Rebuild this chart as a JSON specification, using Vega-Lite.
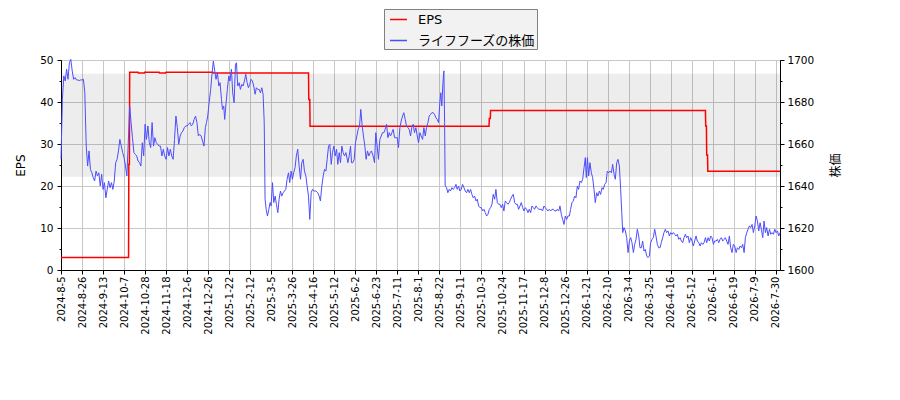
{
  "$schema": "https://vega.github.io/schema/vega-lite/v6.json",
  "width": 719,
  "height": 210,
  "autosize": {"type": "none"},
  "padding": {"left": 61, "top": 60, "right": 120, "bottom": 130},
  "config": {
    "font": "DejaVu Sans",
    "view": {"stroke": "black", "strokeWidth": 1},
    "axis": {
      "domainColor": "black",
      "tickColor": "black",
      "labelColor": "black",
      "labelFont": "DejaVu Sans",
      "labelFontSize": 10.5,
      "gridColor": "#c8c8c8",
      "gridWidth": 1,
      "titleFont": "DejaVu Sans, Noto Sans CJK JP",
      "titleFontSize": 12,
      "titleFontWeight": "normal",
      "titleColor": "black"
    },
    "legend": {
      "orient": "none",
      "legendX": 323,
      "legendY": -51,
      "fillColor": "#f2f2f2",
      "strokeColor": "#808080",
      "padding": 1,
      "symbolOffset": 4,
      "symbolType": "stroke",
      "symbolStrokeWidth": 1.5,
      "symbolSize": 289,
      "rowPadding": 4,
      "labelOffset": 10,
      "labelFont": "DejaVu Sans, Noto Sans CJK JP",
      "labelFontSize": 13,
      "labelColor": "black",
      "labelLimit": 300
    }
  },
  "layer": [
    {
      "layer": [
        {
          "data": {"values": [{"n0": 0, "n1": 513, "lo": 22.2, "hi": 46.7}]},
          "mark": {"type": "rect", "color": "black", "opacity": 0.07},
          "encoding": {
            "x": {"field": "n0", "type": "quantitative", "scale": {"domain": [0, 513], "nice": false, "zero": false}},
            "x2": {"field": "n1"},
            "y": {"field": "lo", "type": "quantitative", "scale": {"domain": [0, 50], "nice": false}},
            "y2": {"field": "hi"}
          }
        },
        {
          "data": {"values": [
            {"n": 0, "eps": 3.0}, {"n": 48.2, "eps": 3.0}, {"n": 48.4, "eps": 25.2}, {"n": 48.8, "eps": 25.2}, {"n": 49.0, "eps": 47.1},
            {"n": 55.0, "eps": 47.1}, {"n": 55.2, "eps": 46.9}, {"n": 59.5, "eps": 46.9}, {"n": 59.7, "eps": 47.1},
            {"n": 70.0, "eps": 47.1}, {"n": 70.2, "eps": 46.9}, {"n": 74.7, "eps": 46.9}, {"n": 74.9, "eps": 47.1},
            {"n": 108.3, "eps": 47.1}, {"n": 108.5, "eps": 46.9}, {"n": 176.6, "eps": 46.9}, {"n": 176.8, "eps": 40.6},
            {"n": 177.5, "eps": 40.6}, {"n": 177.7, "eps": 34.2}, {"n": 305.4, "eps": 34.2}, {"n": 305.6, "eps": 36.1},
            {"n": 306.3, "eps": 36.1}, {"n": 306.5, "eps": 38.0}, {"n": 459.8, "eps": 38.0}, {"n": 460.0, "eps": 34.3},
            {"n": 460.5, "eps": 34.3}, {"n": 460.7, "eps": 27.4}, {"n": 461.3, "eps": 27.4}, {"n": 461.5, "eps": 23.5},
            {"n": 513, "eps": 23.5}
          ]},
          "mark": {"type": "line", "strokeWidth": 1.5},
          "encoding": {
            "x": {
              "field": "n",
              "type": "quantitative",
              "scale": {"domain": [0, 513], "nice": false, "zero": false},
              "axis": {
                "title": null,
                "values": [0, 15, 30, 45, 60, 75, 90, 105, 120, 135, 150, 165, 180, 195, 210, 225, 240, 255, 270, 285, 300, 315, 330, 345, 360, 375, 390, 405, 420, 435, 450, 465, 480, 495, 510],
                "tickCount": 60,
                "labelExpr": "['2024-8-5','2024-8-26','2024-9-13','2024-10-7','2024-10-28','2024-11-18','2024-12-6','2024-12-26','2025-1-22','2025-2-12','2025-3-5','2025-3-26','2025-4-16','2025-5-12','2025-6-2','2025-6-23','2025-7-11','2025-8-1','2025-8-22','2025-9-11','2025-10-3','2025-10-24','2025-11-17','2025-12-8','2025-12-26','2026-1-21','2026-2-10','2026-3-4','2026-3-25','2026-4-16','2026-5-12','2026-6-1','2026-6-19','2026-7-9','2026-7-30'][round(datum.value / 15)]",
                "labelAngle": 270,
                "labelFontSize": 10,
                "labelFlush": false,
                "labelBound": false,
                "labelOverlap": false,
                "tickSize": 4,
                "labelPadding": 2,
                "grid": true
              }
            },
            "y": {
              "field": "eps",
              "type": "quantitative",
              "scale": {"domain": [0, 50], "nice": false},
              "axis": {
                "title": "EPS",
                "orient": "left",
                "values": [0, 5, 10, 15, 20, 25, 30, 35, 40, 45, 50],
                "tickCount": 30,
                "labelExpr": "datum.value % 10 == 0 ? datum.label : ''",
                "tickSize": {"condition": {"test": "datum.value % 10 != 0", "value": 2}, "value": 4},
                "gridOpacity": {"condition": {"test": "datum.value % 10 != 0", "value": 0}, "value": 1},
                "grid": true,
                "labelOverlap": false,
                "labelPadding": 4,
                "titlePadding": 12
              }
            },
            "color": {
              "datum": "EPS",
              "type": "nominal",
              "scale": {"domain": ["EPS", "ライフフーズの株価"], "range": ["#ff0000", "#4d4dff"]},
              "legend": {"title": null}
            }
          }
        }
      ]
    },
    {
      "data": {"values": [
        {"n": 0, "price": 1652.7}, {"n": 1, "price": 1681.3}, {"n": 2, "price": 1692.4}, {"n": 3, "price": 1690.0}, {"n": 4, "price": 1695.6},
        {"n": 5, "price": 1690.8}, {"n": 6, "price": 1698.7}, {"n": 7, "price": 1700.3}, {"n": 8, "price": 1694.8}, {"n": 9, "price": 1690.8},
        {"n": 10, "price": 1691.6}, {"n": 11, "price": 1690.5}, {"n": 12, "price": 1690.5}, {"n": 13, "price": 1690.2}, {"n": 14, "price": 1690.5},
        {"n": 15, "price": 1690.5}, {"n": 16, "price": 1690.8}, {"n": 17, "price": 1684.4}, {"n": 18, "price": 1659.0}, {"n": 19, "price": 1649.5},
        {"n": 20, "price": 1656.7}, {"n": 21, "price": 1647.9}, {"n": 22, "price": 1646.3}, {"n": 23, "price": 1644.0}, {"n": 24, "price": 1642.4},
        {"n": 25, "price": 1647.1}, {"n": 26, "price": 1644.8}, {"n": 27, "price": 1646.3}, {"n": 28, "price": 1640.0}, {"n": 29, "price": 1645.6},
        {"n": 30, "price": 1638.4}, {"n": 31, "price": 1641.6}, {"n": 32, "price": 1634.4}, {"n": 33, "price": 1638.4}, {"n": 34, "price": 1642.4},
        {"n": 35, "price": 1639.2}, {"n": 36, "price": 1641.6}, {"n": 37, "price": 1638.4}, {"n": 38, "price": 1642.4}, {"n": 39, "price": 1651.1},
        {"n": 40, "price": 1652.7}, {"n": 41, "price": 1656.7}, {"n": 42, "price": 1662.2}, {"n": 43, "price": 1659.0}, {"n": 44, "price": 1655.9},
        {"n": 45, "price": 1653.5}, {"n": 46, "price": 1649.5}, {"n": 47, "price": 1644.8}, {"n": 48, "price": 1660.6}, {"n": 49, "price": 1678.1},
        {"n": 50, "price": 1670.2}, {"n": 51, "price": 1663.0}, {"n": 52, "price": 1655.9}, {"n": 53, "price": 1655.1}, {"n": 54, "price": 1654.3},
        {"n": 55, "price": 1651.9}, {"n": 56, "price": 1651.1}, {"n": 57, "price": 1649.5}, {"n": 58, "price": 1660.6}, {"n": 59, "price": 1654.3},
        {"n": 60, "price": 1669.4}, {"n": 61, "price": 1662.2}, {"n": 62, "price": 1668.6}, {"n": 63, "price": 1660.6}, {"n": 64, "price": 1658.3},
        {"n": 65, "price": 1670.2}, {"n": 66, "price": 1659.0}, {"n": 67, "price": 1663.0}, {"n": 68, "price": 1660.6}, {"n": 69, "price": 1659.8},
        {"n": 70, "price": 1659.0}, {"n": 71, "price": 1659.0}, {"n": 72, "price": 1654.3}, {"n": 73, "price": 1657.5}, {"n": 74, "price": 1654.3},
        {"n": 75, "price": 1652.7}, {"n": 76, "price": 1658.3}, {"n": 77, "price": 1654.3}, {"n": 78, "price": 1657.5}, {"n": 79, "price": 1654.3},
        {"n": 80, "price": 1652.7}, {"n": 81, "price": 1662.2}, {"n": 82, "price": 1673.3}, {"n": 83, "price": 1667.8}, {"n": 84, "price": 1659.8},
        {"n": 85, "price": 1663.8}, {"n": 86, "price": 1665.4}, {"n": 87, "price": 1666.2}, {"n": 88, "price": 1667.8}, {"n": 89, "price": 1668.6},
        {"n": 90, "price": 1668.6}, {"n": 91, "price": 1669.4}, {"n": 92, "price": 1670.2}, {"n": 93, "price": 1668.6}, {"n": 94, "price": 1669.4},
        {"n": 95, "price": 1671.7}, {"n": 96, "price": 1673.3}, {"n": 97, "price": 1670.2}, {"n": 98, "price": 1663.8}, {"n": 99, "price": 1664.6},
        {"n": 100, "price": 1663.8}, {"n": 101, "price": 1661.4}, {"n": 102, "price": 1659.0}, {"n": 103, "price": 1667.8},
        {"n": 103.8, "price": 1670.2}, {"n": 104.7, "price": 1673.3}, {"n": 105.7, "price": 1679.7}, {"n": 106.8, "price": 1686.0}, {"n": 107.6, "price": 1692.4},
        {"n": 108.7, "price": 1699.5}, {"n": 109.7, "price": 1694.8}, {"n": 110.6, "price": 1690.8}, {"n": 111.6, "price": 1694.0}, {"n": 112.6, "price": 1687.6},
        {"n": 113.5, "price": 1689.2}, {"n": 114.5, "price": 1681.3}, {"n": 115.2, "price": 1676.5}, {"n": 116.1, "price": 1678.1}, {"n": 116.8, "price": 1671.7},
        {"n": 117.8, "price": 1679.7}, {"n": 118.7, "price": 1686.0}, {"n": 119.7, "price": 1692.4}, {"n": 120.6, "price": 1690.0}, {"n": 121.6, "price": 1695.6},
        {"n": 122.5, "price": 1684.4}, {"n": 123.5, "price": 1679.7}, {"n": 124.5, "price": 1697.9}, {"n": 125.2, "price": 1698.7}, {"n": 126.1, "price": 1687.6},
        {"n": 127.1, "price": 1689.2}, {"n": 128, "price": 1686.0}, {"n": 129, "price": 1688.4}, {"n": 129.9, "price": 1687.6}, {"n": 130.9, "price": 1690.0},
        {"n": 131.8, "price": 1693.2}, {"n": 132.8, "price": 1689.2}, {"n": 133.7, "price": 1686.8}, {"n": 134.7, "price": 1688.4}, {"n": 135.6, "price": 1690.8},
        {"n": 136.6, "price": 1690.0}, {"n": 137.5, "price": 1687.6}, {"n": 138.5, "price": 1683.7}, {"n": 139.4, "price": 1686.8}, {"n": 140.4, "price": 1686.0},
        {"n": 141.4, "price": 1686.0}, {"n": 142.3, "price": 1684.4}, {"n": 143.3, "price": 1686.8}, {"n": 144.2, "price": 1683.7}, {"n": 145, "price": 1670.2},
        {"n": 145.6, "price": 1633.7}, {"n": 146.4, "price": 1628.9}, {"n": 147.3, "price": 1625.7}, {"n": 148.3, "price": 1628.9}, {"n": 149.2, "price": 1632.1},
        {"n": 149.9, "price": 1630.5}, {"n": 150.9, "price": 1641.6}, {"n": 151.8, "price": 1632.1}, {"n": 152.8, "price": 1635.2}, {"n": 153.7, "price": 1631.3},
        {"n": 154.7, "price": 1627.3}, {"n": 155.6, "price": 1633.7}, {"n": 156.6, "price": 1637.6}, {"n": 157.5, "price": 1635.2}, {"n": 158.5, "price": 1636.8},
        {"n": 159.4, "price": 1637.6}, {"n": 160.4, "price": 1638.4}, {"n": 161.3, "price": 1643.2}, {"n": 162.3, "price": 1646.3}, {"n": 163.2, "price": 1641.6},
        {"n": 164.2, "price": 1647.1}, {"n": 165.1, "price": 1643.2}, {"n": 166, "price": 1646.3}, {"n": 167, "price": 1648.7}, {"n": 167.9, "price": 1654.3},
        {"n": 168.9, "price": 1657.5}, {"n": 169.9, "price": 1649.5}, {"n": 170.9, "price": 1643.2}, {"n": 171.8, "price": 1651.1}, {"n": 172.8, "price": 1652.7},
        {"n": 173.7, "price": 1647.1}, {"n": 174.7, "price": 1644.8}, {"n": 175.6, "price": 1640.0}, {"n": 176.6, "price": 1635.2}, {"n": 177.5, "price": 1624.1},
        {"n": 178.5, "price": 1636.8}, {"n": 179.4, "price": 1638.4}, {"n": 180.4, "price": 1637.6}, {"n": 181.8, "price": 1637.6}, {"n": 183.2, "price": 1636.8},
        {"n": 184.2, "price": 1635.2}, {"n": 185.1, "price": 1632.9}, {"n": 186.1, "price": 1640.0}, {"n": 187.1, "price": 1644.8}, {"n": 188, "price": 1647.9},
        {"n": 189, "price": 1647.1}, {"n": 189.9, "price": 1652.7}, {"n": 190.9, "price": 1659.0}, {"n": 191.8, "price": 1659.8}, {"n": 192.8, "price": 1650.3},
        {"n": 193.7, "price": 1655.9}, {"n": 194.7, "price": 1659.0}, {"n": 195.6, "price": 1654.3}, {"n": 196.6, "price": 1657.5}, {"n": 197.5, "price": 1650.3},
        {"n": 198.5, "price": 1655.9}, {"n": 199.4, "price": 1651.1}, {"n": 200.4, "price": 1659.0}, {"n": 201.3, "price": 1655.9}, {"n": 202.3, "price": 1654.3},
        {"n": 203.3, "price": 1655.9}, {"n": 204.7, "price": 1651.1}, {"n": 205.6, "price": 1654.3}, {"n": 206.6, "price": 1659.0}, {"n": 207.3, "price": 1651.1},
        {"n": 208.2, "price": 1651.1}, {"n": 209.2, "price": 1652.7}, {"n": 210.1, "price": 1660.6}, {"n": 211.1, "price": 1663.8}, {"n": 212, "price": 1667.0},
        {"n": 213, "price": 1668.6}, {"n": 213.9, "price": 1676.5}, {"n": 214.9, "price": 1668.6}, {"n": 215.8, "price": 1663.8}, {"n": 216.8, "price": 1659.0},
        {"n": 217.7, "price": 1652.7}, {"n": 218.7, "price": 1656.7}, {"n": 219.6, "price": 1654.3}, {"n": 220.6, "price": 1655.9}, {"n": 221.5, "price": 1656.7},
        {"n": 222.7, "price": 1654.3}, {"n": 223.7, "price": 1651.1}, {"n": 224.6, "price": 1665.4}, {"n": 225.6, "price": 1659.0}, {"n": 226.5, "price": 1652.7},
        {"n": 227.5, "price": 1662.2}, {"n": 228.5, "price": 1663.8}, {"n": 229.4, "price": 1665.4}, {"n": 230.4, "price": 1665.4}, {"n": 231.3, "price": 1667.0},
        {"n": 232.3, "price": 1669.4}, {"n": 233.2, "price": 1663.0}, {"n": 234.2, "price": 1665.4}, {"n": 235.1, "price": 1663.8}, {"n": 236.1, "price": 1665.4},
        {"n": 237, "price": 1667.0}, {"n": 238, "price": 1663.0}, {"n": 238.9, "price": 1663.0}, {"n": 239.9, "price": 1663.0}, {"n": 240.8, "price": 1658.3},
        {"n": 241.8, "price": 1667.8}, {"n": 242.7, "price": 1670.9}, {"n": 243.7, "price": 1673.3}, {"n": 244.6, "price": 1674.9}, {"n": 245.6, "price": 1671.7},
        {"n": 246.5, "price": 1668.6}, {"n": 247.5, "price": 1667.8}, {"n": 248.4, "price": 1667.0}, {"n": 249.4, "price": 1663.8}, {"n": 250.3, "price": 1667.8},
        {"n": 251.3, "price": 1669.4}, {"n": 252.2, "price": 1665.4}, {"n": 253.2, "price": 1667.8}, {"n": 254.2, "price": 1663.8}, {"n": 255.1, "price": 1660.6},
        {"n": 256.1, "price": 1665.4}, {"n": 257, "price": 1663.8}, {"n": 258, "price": 1662.2}, {"n": 258.9, "price": 1667.8}, {"n": 259.9, "price": 1663.8},
        {"n": 260.8, "price": 1667.8}, {"n": 261.8, "price": 1670.2}, {"n": 262.7, "price": 1673.3}, {"n": 263.7, "price": 1674.1}, {"n": 264.6, "price": 1674.9},
        {"n": 265.6, "price": 1674.9}, {"n": 266.5, "price": 1674.1}, {"n": 267.5, "price": 1672.5}, {"n": 268.4, "price": 1671.7}, {"n": 269.4, "price": 1670.2},
        {"n": 270.3, "price": 1679.7}, {"n": 271, "price": 1684.4}, {"n": 271.7, "price": 1678.1}, {"n": 272.5, "price": 1689.2}, {"n": 273.2, "price": 1694.8},
        {"n": 273.7, "price": 1670.2}, {"n": 274.1, "price": 1640.0}, {"n": 275.1, "price": 1639.2}, {"n": 276, "price": 1636.8}, {"n": 277, "price": 1638.4},
        {"n": 277.9, "price": 1637.6}, {"n": 278.9, "price": 1639.2}, {"n": 279.9, "price": 1638.4}, {"n": 280.8, "price": 1639.2}, {"n": 281.8, "price": 1640.8},
        {"n": 282.7, "price": 1638.4}, {"n": 283.7, "price": 1640.0}, {"n": 284.6, "price": 1637.6}, {"n": 285.6, "price": 1638.4}, {"n": 286.5, "price": 1640.8},
        {"n": 287.5, "price": 1639.2}, {"n": 288.4, "price": 1637.6}, {"n": 289.4, "price": 1636.8}, {"n": 290.3, "price": 1638.4}, {"n": 291.3, "price": 1636.8},
        {"n": 292.2, "price": 1638.4}, {"n": 293.2, "price": 1636.0}, {"n": 294.1, "price": 1634.4}, {"n": 295.1, "price": 1635.2}, {"n": 296.1, "price": 1632.9},
        {"n": 297, "price": 1633.7}, {"n": 298, "price": 1630.5}, {"n": 298.9, "price": 1629.7}, {"n": 299.9, "price": 1629.7}, {"n": 300.8, "price": 1628.1},
        {"n": 301.8, "price": 1628.9}, {"n": 302.7, "price": 1627.3}, {"n": 303.7, "price": 1625.7}, {"n": 304.6, "price": 1626.5}, {"n": 305.6, "price": 1628.9},
        {"n": 306.5, "price": 1629.7}, {"n": 307.5, "price": 1631.3}, {"n": 308.4, "price": 1636.0}, {"n": 309.4, "price": 1633.7}, {"n": 310.3, "price": 1638.4},
        {"n": 311.3, "price": 1632.1}, {"n": 312.2, "price": 1631.3}, {"n": 313.2, "price": 1631.3}, {"n": 314.1, "price": 1629.7}, {"n": 315.1, "price": 1631.3},
        {"n": 316, "price": 1628.1}, {"n": 317, "price": 1632.9}, {"n": 317.9, "price": 1632.1}, {"n": 318.9, "price": 1631.3}, {"n": 319.8, "price": 1632.1},
        {"n": 320.8, "price": 1633.7}, {"n": 321.8, "price": 1635.2}, {"n": 322.7, "price": 1636.0}, {"n": 323.7, "price": 1632.1}, {"n": 324.6, "price": 1631.3},
        {"n": 325.6, "price": 1631.3}, {"n": 326.5, "price": 1628.9}, {"n": 327.5, "price": 1630.5}, {"n": 328.4, "price": 1632.1}, {"n": 329.4, "price": 1629.7},
        {"n": 330.3, "price": 1628.1}, {"n": 331.3, "price": 1629.7}, {"n": 332.2, "price": 1628.9}, {"n": 333.2, "price": 1627.3}, {"n": 334.1, "price": 1628.9},
        {"n": 335.1, "price": 1627.3}, {"n": 336, "price": 1630.5}, {"n": 337, "price": 1629.7}, {"n": 337.9, "price": 1628.9}, {"n": 338.9, "price": 1630.5},
        {"n": 339.8, "price": 1629.7}, {"n": 340.8, "price": 1628.9}, {"n": 341.7, "price": 1628.9}, {"n": 342.7, "price": 1628.9}, {"n": 343.6, "price": 1628.1},
        {"n": 344.6, "price": 1630.5}, {"n": 345.5, "price": 1629.7}, {"n": 346.5, "price": 1628.9}, {"n": 347.4, "price": 1628.1}, {"n": 348.4, "price": 1628.9},
        {"n": 349.4, "price": 1628.1}, {"n": 350.3, "price": 1628.9}, {"n": 351.3, "price": 1628.9}, {"n": 352.2, "price": 1628.1}, {"n": 353.2, "price": 1628.1},
        {"n": 354.1, "price": 1628.9}, {"n": 355.1, "price": 1628.1}, {"n": 356, "price": 1630.5}, {"n": 357, "price": 1626.5}, {"n": 357.9, "price": 1624.1},
        {"n": 358.9, "price": 1621.7}, {"n": 359.8, "price": 1625.7}, {"n": 360.8, "price": 1624.1}, {"n": 361.7, "price": 1625.7}, {"n": 362.7, "price": 1625.7},
        {"n": 363.6, "price": 1628.9}, {"n": 364.6, "price": 1632.1}, {"n": 365.5, "price": 1632.9}, {"n": 366.5, "price": 1635.2}, {"n": 367.4, "price": 1634.4},
        {"n": 368.4, "price": 1640.0}, {"n": 369.3, "price": 1638.4}, {"n": 370.3, "price": 1642.4}, {"n": 371.3, "price": 1641.6}, {"n": 372.2, "price": 1643.2},
        {"n": 373.2, "price": 1648.7}, {"n": 374.1, "price": 1653.5}, {"n": 374.8, "price": 1644.0}, {"n": 375.6, "price": 1653.5}, {"n": 376.5, "price": 1644.8},
        {"n": 377.4, "price": 1651.1}, {"n": 378.4, "price": 1646.3}, {"n": 379.3, "price": 1644.0}, {"n": 380.3, "price": 1638.4}, {"n": 381.2, "price": 1632.1},
        {"n": 382.2, "price": 1636.8}, {"n": 383.1, "price": 1635.2}, {"n": 384.1, "price": 1637.6}, {"n": 385, "price": 1636.0}, {"n": 386, "price": 1639.2},
        {"n": 386.9, "price": 1638.4}, {"n": 387.9, "price": 1640.8}, {"n": 388.9, "price": 1641.6}, {"n": 389.8, "price": 1647.1}, {"n": 390.8, "price": 1646.3},
        {"n": 391.7, "price": 1647.1}, {"n": 392.7, "price": 1646.3}, {"n": 393.6, "price": 1650.3}, {"n": 394.6, "price": 1645.6}, {"n": 395.5, "price": 1643.2},
        {"n": 396.5, "price": 1651.1}, {"n": 397.4, "price": 1652.7}, {"n": 398.4, "price": 1649.5}, {"n": 399.3, "price": 1638.4}, {"n": 400.1, "price": 1627.3},
        {"n": 400.8, "price": 1617.8}, {"n": 401.7, "price": 1620.2}, {"n": 402.7, "price": 1618.6}, {"n": 403.6, "price": 1615.4}, {"n": 404.6, "price": 1608.3},
        {"n": 405.5, "price": 1613.8}, {"n": 406.5, "price": 1615.4}, {"n": 407.4, "price": 1613.0}, {"n": 408.4, "price": 1608.3}, {"n": 409.3, "price": 1612.2},
        {"n": 410.3, "price": 1614.6}, {"n": 411.2, "price": 1619.4}, {"n": 412.2, "price": 1616.2}, {"n": 413.1, "price": 1610.6}, {"n": 414.1, "price": 1610.6},
        {"n": 415, "price": 1613.8}, {"n": 416, "price": 1609.0}, {"n": 416.9, "price": 1609.8}, {"n": 417.9, "price": 1606.7}, {"n": 418.8, "price": 1605.9},
        {"n": 419.8, "price": 1606.7}, {"n": 420.7, "price": 1613.0}, {"n": 421.7, "price": 1614.6}, {"n": 422.6, "price": 1615.4}, {"n": 423.6, "price": 1619.4},
        {"n": 424.5, "price": 1616.2}, {"n": 425.5, "price": 1612.2}, {"n": 426.4, "price": 1610.6}, {"n": 427.4, "price": 1610.6}, {"n": 428.3, "price": 1613.0},
        {"n": 429.3, "price": 1615.4}, {"n": 430.2, "price": 1617.8}, {"n": 431.2, "price": 1619.4}, {"n": 432.1, "price": 1617.8}, {"n": 433.1, "price": 1618.6},
        {"n": 434.1, "price": 1616.2}, {"n": 435, "price": 1617.8}, {"n": 436, "price": 1617.0}, {"n": 436.9, "price": 1617.8}, {"n": 437.9, "price": 1617.0},
        {"n": 438.8, "price": 1616.2}, {"n": 439.8, "price": 1617.0}, {"n": 440.7, "price": 1614.6}, {"n": 441.7, "price": 1615.4}, {"n": 442.6, "price": 1613.8},
        {"n": 443.6, "price": 1613.0}, {"n": 444.5, "price": 1615.4}, {"n": 445.5, "price": 1617.0}, {"n": 446.4, "price": 1615.4}, {"n": 447.4, "price": 1616.2},
        {"n": 448.3, "price": 1613.0}, {"n": 449.3, "price": 1615.4}, {"n": 450.2, "price": 1613.8}, {"n": 451.2, "price": 1611.4}, {"n": 452.1, "price": 1613.8},
        {"n": 453.1, "price": 1616.2}, {"n": 454, "price": 1613.8}, {"n": 455, "price": 1613.0}, {"n": 456, "price": 1611.4}, {"n": 456.9, "price": 1613.0},
        {"n": 457.9, "price": 1612.2}, {"n": 458.8, "price": 1613.0}, {"n": 459.8, "price": 1615.4}, {"n": 460.7, "price": 1613.0}, {"n": 461.7, "price": 1615.4},
        {"n": 462.6, "price": 1613.8}, {"n": 463.6, "price": 1616.2}, {"n": 464.5, "price": 1615.4}, {"n": 465.5, "price": 1612.2}, {"n": 466.4, "price": 1613.8},
        {"n": 467.4, "price": 1613.8}, {"n": 468.3, "price": 1614.6}, {"n": 469.3, "price": 1613.0}, {"n": 470.2, "price": 1614.6}, {"n": 471.2, "price": 1615.4},
        {"n": 472.1, "price": 1613.8}, {"n": 473.1, "price": 1614.6}, {"n": 474, "price": 1615.4}, {"n": 475, "price": 1613.8}, {"n": 475.9, "price": 1612.2},
        {"n": 476.9, "price": 1616.2}, {"n": 477.8, "price": 1610.6}, {"n": 478.8, "price": 1608.3}, {"n": 479.7, "price": 1612.2}, {"n": 480.7, "price": 1611.4},
        {"n": 481.7, "price": 1608.3}, {"n": 482.6, "price": 1610.6}, {"n": 483.6, "price": 1609.8}, {"n": 484.5, "price": 1611.4}, {"n": 485.5, "price": 1610.6},
        {"n": 486.4, "price": 1612.2}, {"n": 487.4, "price": 1608.3}, {"n": 488.3, "price": 1615.4}, {"n": 489.3, "price": 1617.8}, {"n": 490.2, "price": 1619.4},
        {"n": 491.2, "price": 1621.0}, {"n": 492.1, "price": 1620.2}, {"n": 493.1, "price": 1621.7}, {"n": 494, "price": 1617.8}, {"n": 495, "price": 1621.0},
        {"n": 495.9, "price": 1625.7}, {"n": 496.9, "price": 1623.3}, {"n": 497.8, "price": 1618.6}, {"n": 498.8, "price": 1622.5}, {"n": 499.7, "price": 1619.4},
        {"n": 500.7, "price": 1615.4}, {"n": 501.6, "price": 1623.3}, {"n": 502.6, "price": 1617.8}, {"n": 503.5, "price": 1620.2}, {"n": 504.5, "price": 1616.2},
        {"n": 505.5, "price": 1619.4}, {"n": 506.4, "price": 1617.0}, {"n": 507.4, "price": 1617.8}, {"n": 508.3, "price": 1617.0}, {"n": 509.3, "price": 1619.4},
        {"n": 510.2, "price": 1617.8}, {"n": 511.2, "price": 1618.6}, {"n": 512.1, "price": 1616.2}, {"n": 513, "price": 1617.8}
      ]},
      "mark": {"type": "line", "strokeWidth": 1},
      "encoding": {
        "x": {"field": "n", "type": "quantitative", "scale": {"domain": [0, 513], "nice": false, "zero": false}},
        "y": {
          "field": "price",
          "type": "quantitative",
          "scale": {"domain": [1600, 1700], "nice": false, "zero": false},
          "axis": {
            "title": "株価",
            "orient": "right",
            "format": "d",
            "values": [1600, 1610, 1620, 1630, 1640, 1650, 1660, 1670, 1680, 1690, 1700],
            "tickCount": 30,
            "labelExpr": "datum.value % 20 == 0 ? datum.label : ''",
            "tickSize": {"condition": {"test": "datum.value % 20 != 0", "value": 2}, "value": 4},
            "grid": false,
            "labelOverlap": false,
            "labelPadding": 3,
            "titleAngle": 270,
            "titleX": 55,
            "titleY": 105,
            "titleAlign": "center",
            "titleBaseline": "middle"
          }
        },
        "color": {"datum": "ライフフーズの株価", "type": "nominal"}
      }
    }
  ],
  "resolve": {"scale": {"y": "independent"}}
}
